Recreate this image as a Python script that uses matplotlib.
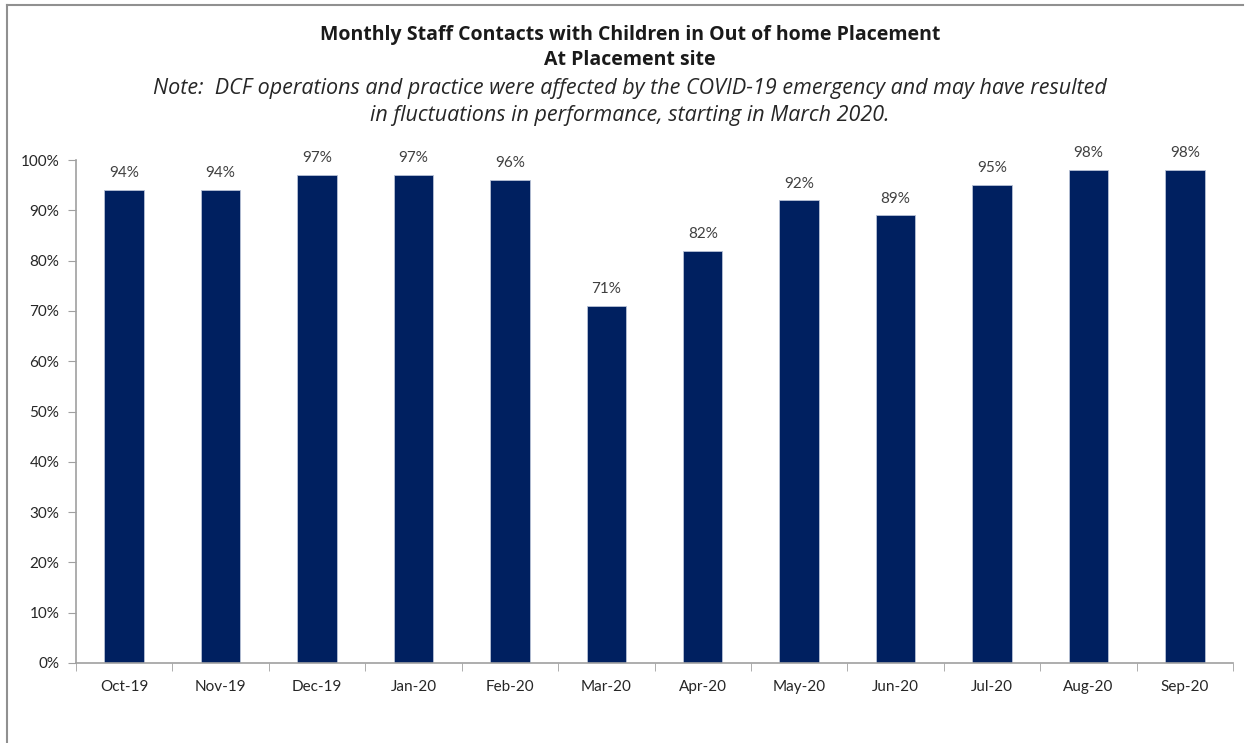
import matplotlib.pyplot as plt
from matplotlib.lines import Line2D
from matplotlib.ticker import MultipleLocator, FuncFormatter

months = ["Oct-19", "Nov-19", "Dec-19", "Jan-20", "Feb-20", "Mar-20",
          "Apr-20", "May-20", "Jun-20", "Jul-20", "Aug-20", "Sep-20"]
pct_contacts = [94, 94, 97, 97, 96, 71, 82, 92, 89, 95, 98, 98]

plt.rcParams['font.family'] = ['Lato', 'DejaVu Sans']

W, H = 1251, 743
fig = plt.figure(figsize=(W / 100, H / 100), dpi=100)
ax = fig.add_axes([76 / W, 1 - 663 / H, (1233 - 76) / W, (663 - 160) / H])

x = range(len(months))
ax.bar(x, pct_contacts, width=0.41, color="#002060", edgecolor="#b8c2d6", linewidth=0.6)

for xi, v in zip(x, pct_contacts):
    ax.annotate(f"{v}%", (xi, v), xytext=(0, 7), textcoords="offset points",
                ha="center", va="bottom", fontsize=11, color="#404040")

ax.set_xlim(-0.5, len(months) - 0.5)
ax.set_ylim(0, 100)
ax.yaxis.set_major_locator(MultipleLocator(10))
ax.yaxis.set_major_formatter(FuncFormatter(lambda v, _: f"{v:.0f}%"))

# category labels centred under bars, tick marks between categories
ax.set_xticks(list(x))
ax.set_xticklabels(months)
ax.set_xticks([i - 0.5 for i in range(len(months) + 1)], minor=True)
ax.tick_params(axis="x", which="major", length=0, pad=12, labelsize=11, labelcolor="#262626")
ax.tick_params(axis="x", which="minor", length=6, color="#a0a0a0", direction="out")
ax.tick_params(axis="y", length=6, color="#a0a0a0", direction="out", pad=6,
               labelsize=11, labelcolor="#262626")

for s in ("top", "right"):
    ax.spines[s].set_visible(False)
for s in ("left", "bottom"):
    ax.spines[s].set_color("#a0a0a0")
    ax.spines[s].set_linewidth(1.2)

title_font = ["Open Sans", "DejaVu Sans"]
fig.text(630 / W, 1 - 35 / H, "Monthly Staff Contacts with Children in Out of home Placement",
         ha="center", va="center", fontsize=14, fontweight="bold", color="#1a1a1a",
         family=title_font)
fig.text(630 / W, 1 - 60 / H, "At Placement site",
         ha="center", va="center", fontsize=14, fontweight="bold", color="#1a1a1a",
         family=title_font)
fig.text(630 / W, 1 - 102 / H,
         "Note:  DCF operations and practice were affected by the COVID-19 emergency and may have resulted\n"
         "in fluctuations in performance, starting in March 2020.",
         ha="center", va="center", fontsize=15.5, fontstyle="italic", color="#262626",
         linespacing=1.35, family=title_font)

# frame edges of the chart area
fig.add_artist(Line2D([7 / W, 7 / W], [0, 1 - 5 / H], color="#909090", lw=1.5))
fig.add_artist(Line2D([7 / W, 1243 / W], [1 - 5 / H, 1 - 5 / H], color="#909090", lw=1.5))

fig.savefig("out.png", dpi=100)
